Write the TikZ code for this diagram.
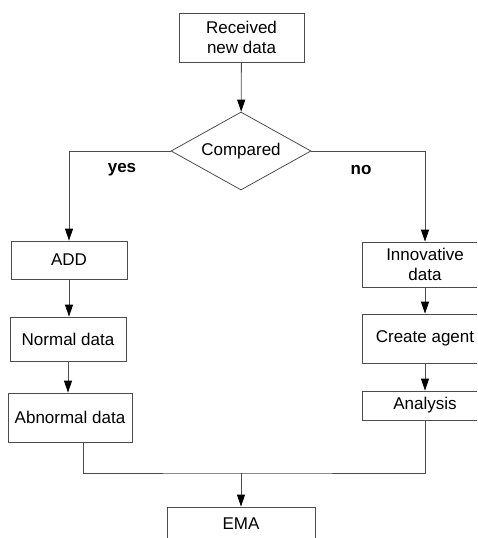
\documentclass[tikz,border=0pt]{standalone}
\usepackage{fontspec}
\setmainfont{Liberation Sans}
\usetikzlibrary{arrows.meta, shapes.geometric}
\colorlet{line edge}{black!70}
\tikzset{
  stepbox/.style={draw=line edge, thick, rectangle, inner sep=0pt, align=center},
  Decide/.style={draw=line edge, thick, diamond, aspect=1.8, inner sep=0pt,
    minimum width=140pt, minimum height=78pt},
  edge/.style={draw=line edge, thick, -{Triangle[length=12pt,width=8pt,black]}},
  link/.style={draw=line edge, thick},
  lbl/.style={font=\fontsize{17}{20}\selectfont\bfseries}
}

\begin{document}
\begin{tikzpicture}[x=1pt, y=-1pt, font=\fontsize{17}{20}\selectfont]
    \clip (0,0) rectangle (477,538);
    \node[stepbox, minimum width=125pt, minimum height=49pt] (recv) at (241.5,37.5) {Received\\new data};
    \node[Decide] (cmp) at (241,151) {Compared};
    \node[lbl] (yes) at (122,170) {yes};
    \node[lbl] (no) at (361,170) {no};
    \begin{scope}
      \node[stepbox, minimum width=116pt, minimum height=38pt] (add) at (69,260) {ADD};
      \node[stepbox, minimum width=116pt, minimum height=44pt] (normal) at (68,339) {Normal data};
      \node[stepbox, minimum width=124pt, minimum height=49pt] (abn) at (70,417.5) {Abnormal data};
    \end{scope}
    \begin{scope}
      \node[stepbox, minimum width=126pt, minimum height=45pt] (innov) at (425,264.5) {Innovative\\data};
      \node[stepbox, minimum width=126pt, minimum height=49pt] (agent) at (425,338.5) {Create agent};
      \node[stepbox, minimum width=126pt, minimum height=29pt] (ana) at (425,405.5) {Analysis};
    \end{scope}
    \node[stepbox, minimum width=148pt, minimum height=34pt] (ema) at (241,524) {EMA};
    \coordinate (merge) at (241,473);
    \draw[edge] (recv) -- (cmp);
    \draw[edge] (cmp.west) -| (add.north);
    \draw[edge] (cmp.east) -| (innov.north);
    \draw[edge] (add.south) -- (add.south |- normal.north);
    \draw[edge] (normal.south) -- (normal.south |- abn.north);
    \draw[edge] (innov.south) -- (agent.north);
    \draw[edge] (agent.south) -- (ana.north);
    \draw[link] ([xshift=13pt]abn.south) |- (merge) -| (ana.south);
    \draw[edge] (merge) -- (ema);
  \end{tikzpicture}
\end{document}
